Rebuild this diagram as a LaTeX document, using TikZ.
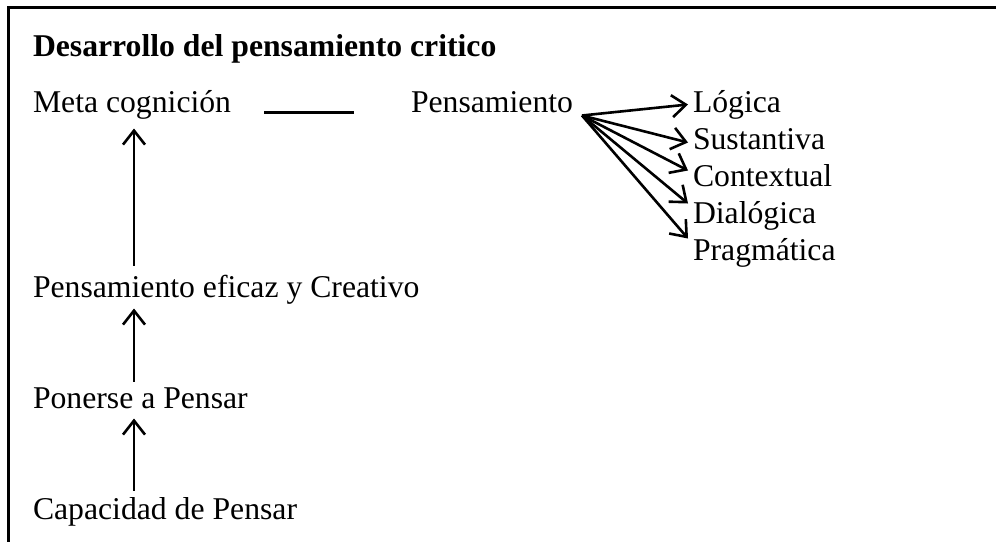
\documentclass[tikz,border=0pt]{standalone}
\usepackage{fontspec}
\setmainfont{Liberation Serif}
\usetikzlibrary{arrows.meta}
\tikzset{
  txt/.style={anchor=base west, inner sep=0pt, outer sep=0pt, font=\fontsize{31.7}{37}\selectfont},
  ttl/.style={txt, font=\fontsize{31.7}{37}\selectfont\bfseries},
  arr/.style={line width=2.6pt, -{Straight Barb[length=14pt,width=22pt,line width=2.6pt]}},
  plain/.style={line width=2.4pt},
  frame/.style={line width=2.6pt}
}
\begin{document}
\begin{tikzpicture}[x=1pt,y=-1pt]
\useasboundingbox (0,0) rectangle (996,542);
% frame (top and left edges)
\coordinate (ftr) at (996,7.7);
\coordinate (ftl) at (8.2,7.7);
\coordinate (fbl) at (8.2,542);
\draw[frame] (ftr) -- (ftl) -- (fbl);
% texts
\node[ttl] (title) at (33,56) {Desarrollo del pensamiento critico};
\node[txt] (meta) at (33,112.5) {Meta cognición};
\node[txt] (pens) at (411,112.5) {Pensamiento};
\node[txt] (log) at (693,112.5) {Lógica};
\node[txt] (sus) at (693,149.5) {Sustantiva};
\node[txt] (con) at (693,186.5) {Contextual};
\node[txt] (dia) at (693,223.5) {Dialógica};
\node[txt] (pra) at (693,260.5) {Pragmática};
\node[txt] (efi) at (33,297.5) {Pensamiento eficaz y Creativo};
\node[txt] (pon) at (33,408.5) {Ponerse a Pensar};
\node[txt] (cap) at (33,519.5) {Capacidad de Pensar};
% underline link
\draw[plain] ([xshift=33pt]meta.base east) -- ([xshift=-57pt]pens.base west);
% vertical arrows
\draw[arr] ([xshift=101pt,yshift=29pt]cap.base west) -- ([xshift=101pt,yshift=-10pt]pon.base west);
\draw[arr] ([xshift=101pt,yshift=27pt]pon.base west) -- ([xshift=101pt,yshift=-11pt]efi.base west);
\draw[arr] ([xshift=101pt,yshift=32pt]efi.base west) -- ([xshift=101pt,yshift=-16pt]meta.base west);
% fan of arrows
\coordinate (o) at ([xshift=9pt,yshift=-3pt]pens.base east);
\draw[arr] (o) -- ([xshift=-5pt,yshift=8pt]log.base west);
\draw[arr] (o) -- ([xshift=-5pt,yshift=7pt]sus.base west);
\draw[arr] (o) -- ([xshift=-5pt,yshift=16pt]con.base west);
\draw[arr] (o) -- ([xshift=-5pt,yshift=20pt]dia.base west);
\draw[arr] (o) -- ([xshift=-5pt,yshift=22pt]pra.base west);
\end{tikzpicture}
\end{document}
